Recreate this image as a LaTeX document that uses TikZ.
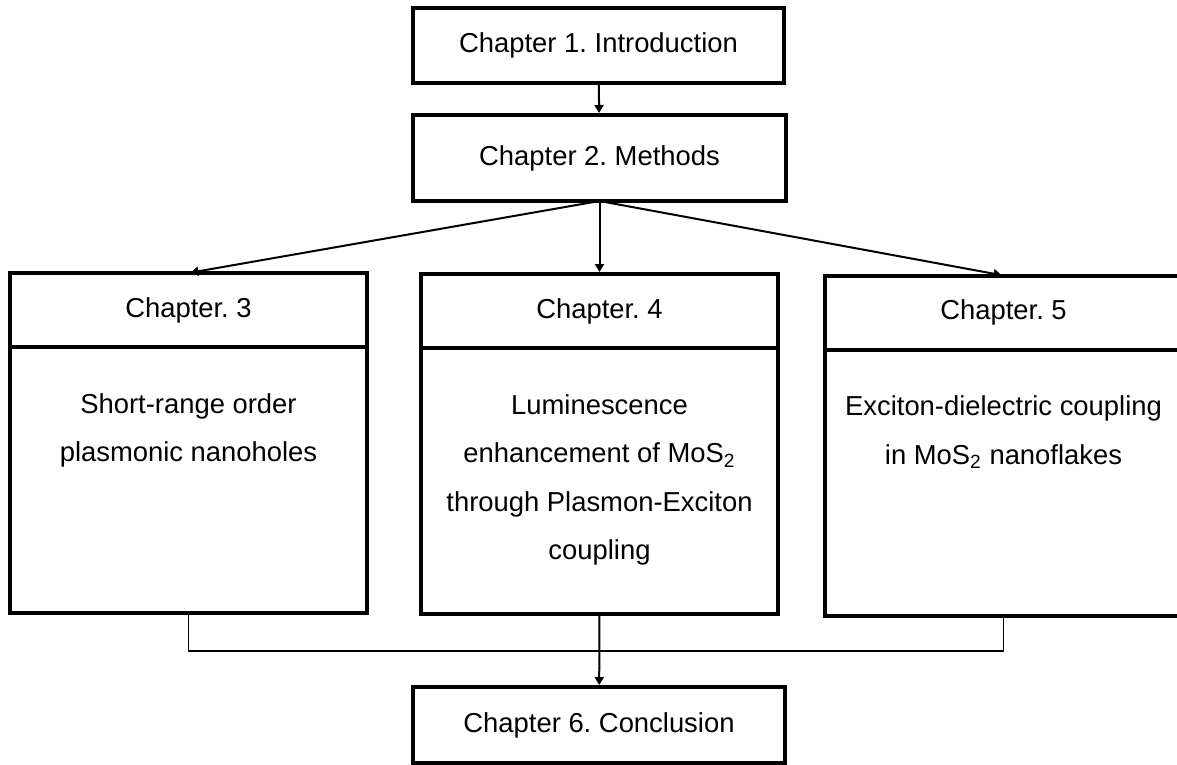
\documentclass[tikz,border=0pt]{standalone}
\usepackage{fontspec}
\setmainfont{Liberation Sans}
\frenchspacing
\usetikzlibrary{positioning, calc, arrows.meta}
\tikzstyle{Box} = [
rectangle, draw, line width=2pt,
inner sep=0pt, outer sep=0pt,
font=\fontsize{13.7}{24.25}\selectfont]
\tikzstyle{Head} = [Box, minimum width=178.5pt, minimum height=37pt]
\tikzstyle{Body} = [Box, minimum width=178.5pt, minimum height=133pt]
\tikzstyle{Text} = [anchor=north, align=center, inner sep=0pt,
font=\fontsize{13.7}{24.25}\selectfont]
\tikzstyle{Arrow} = [line width=1pt, shorten >=1pt,
-{Triangle[length=4pt, width=4.5pt]}]
\tikzstyle{Line} = [line width=0.9pt]

\begin{document}
\begin{tikzpicture}[x=0.5pt, y=-0.5pt]
    \useasboundingbox [fill=white] (0,0) rectangle (1177,765);
    \node [Box, minimum width=185.5pt, minimum height=37.5pt] (1) at (598.5,45.5) {Chapter 1. Introduction};
    \node [Box, minimum width=186.5pt, minimum height=43pt] (2) at (599.5,158) {Chapter 2. Methods};
    \node [Head] (3) at (188.5,310) {Chapter. 3};
    \node [Head] (4) at (599.5,311) {Chapter. 4};
    \node [Head] (5) at (1003.5,312.5) {Chapter. 5};
    \node [Body, below =0pt of 3] (3b) {};
    \node [Body, below =0pt of 4] (4b) {};
    \node [Body, below =0pt of 5] (5b) {};
    \node [Text, below =23pt of 3b.north] (3t) {Short-range order\\plasmonic nanoholes};
    \node [Text, below =23pt of 4b.north] (4t) {Luminescence\\enhancement of MoS\textsubscript{2}\\through Plasmon-Exciton\\coupling};
    \node [Text, below =23pt of 5b.north] (5t) {Exciton-dielectric coupling\\in MoS\textsubscript{2} nanoflakes};
    \node [Box, minimum width=186pt, minimum height=38pt] (6) at (599,725) {Chapter 6. Conclusion};
    \coordinate (j) at (599.5,651);
    \draw [Arrow] (1) to (2);
    \draw [Arrow] (2.south) to (3.north);
    \draw [Arrow] (2.south) to (4.north);
    \draw [Arrow] (2.south) to (5.north);
    \draw [Line] (3b.south) |- (j) -| (5b.south);
    \draw [Arrow] (4b.south) to (6);
\end{tikzpicture}
\end{document}
